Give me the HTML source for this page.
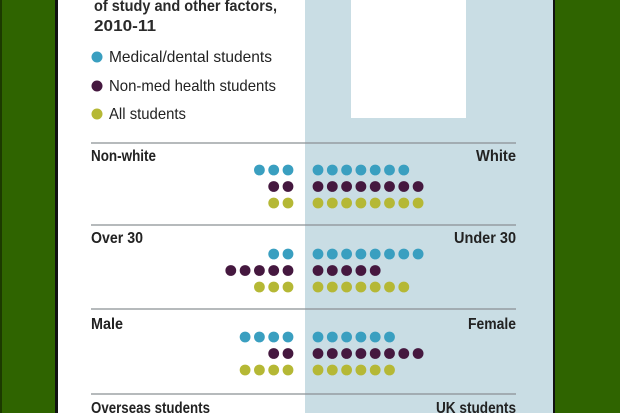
<!DOCTYPE html>
<html><head><meta charset="utf-8"><style>
html,body{margin:0;padding:0;width:620px;height:413px;overflow:hidden;background:#2f6400}
</style></head><body>
<svg width="620" height="413" xmlns="http://www.w3.org/2000/svg" font-family="Liberation Sans, sans-serif">
<rect x="0" y="0" width="620" height="413" fill="#2f6400"/>
<rect x="0" y="0" width="2" height="413" fill="#1c3a00"/>
<rect x="55" y="0" width="3" height="413" fill="#111"/>
<rect x="553" y="0" width="2" height="413" fill="#111"/>
<rect x="58" y="0" width="247" height="413" fill="#ffffff"/>
<rect x="305" y="0" width="248" height="413" fill="#c9dde4"/>
<rect x="351" y="0" width="115" height="118" fill="#ffffff"/>
<g fill="#2a2a2a" font-weight="bold" font-size="16">
<text x="94" y="11" textLength="183" lengthAdjust="spacingAndGlyphs">of study and other factors,</text>
<text x="94" y="31" textLength="62" lengthAdjust="spacingAndGlyphs">2010-11</text>
</g>
<g font-size="16" fill="#222">
<circle cx="97" cy="57" r="5.5" fill="#3a9fc0"/><text x="109" y="62" textLength="163" lengthAdjust="spacingAndGlyphs">Medical/dental students</text>
<circle cx="97" cy="86" r="5.5" fill="#45183f"/><text x="109" y="91" textLength="167" lengthAdjust="spacingAndGlyphs">Non-med health students</text>
<circle cx="97" cy="114" r="5.5" fill="#b5b835"/><text x="109" y="119" textLength="77" lengthAdjust="spacingAndGlyphs">All students</text>
</g>
<g stroke="#8a9094" stroke-width="1.2">
<line x1="91" y1="143" x2="516" y2="143"/>
<line x1="91" y1="225" x2="516" y2="225"/>
<line x1="91" y1="309" x2="516" y2="309"/>
<line x1="91" y1="394" x2="516" y2="394"/>
</g>
<g font-size="16" fill="#222" font-weight="bold">
<text x="91" y="161" textLength="65" lengthAdjust="spacingAndGlyphs">Non-white</text>
<text x="516" y="161" text-anchor="end" textLength="40" lengthAdjust="spacingAndGlyphs">White</text>
<text x="91" y="243" textLength="52" lengthAdjust="spacingAndGlyphs">Over 30</text>
<text x="516" y="243" text-anchor="end" textLength="62" lengthAdjust="spacingAndGlyphs">Under 30</text>
<text x="91" y="329" textLength="32" lengthAdjust="spacingAndGlyphs">Male</text>
<text x="516" y="329" text-anchor="end" textLength="48" lengthAdjust="spacingAndGlyphs">Female</text>
<text x="91" y="413" textLength="119" lengthAdjust="spacingAndGlyphs">Overseas students</text>
<text x="516" y="413" text-anchor="end" textLength="80" lengthAdjust="spacingAndGlyphs">UK students</text>
</g>
<g fill="#3a9fc0">
<circle cx="288" cy="170" r="5.4"/><circle cx="273.7" cy="170" r="5.4"/><circle cx="259.4" cy="170" r="5.4"/>
<circle cx="318" cy="170" r="5.4"/><circle cx="332.3" cy="170" r="5.4"/><circle cx="346.6" cy="170" r="5.4"/><circle cx="360.9" cy="170" r="5.4"/><circle cx="375.2" cy="170" r="5.4"/><circle cx="389.5" cy="170" r="5.4"/><circle cx="403.8" cy="170" r="5.4"/>
</g>
<g fill="#45183f">
<circle cx="288" cy="186.5" r="5.4"/><circle cx="273.7" cy="186.5" r="5.4"/>
<circle cx="318" cy="186.5" r="5.4"/><circle cx="332.3" cy="186.5" r="5.4"/><circle cx="346.6" cy="186.5" r="5.4"/><circle cx="360.9" cy="186.5" r="5.4"/><circle cx="375.2" cy="186.5" r="5.4"/><circle cx="389.5" cy="186.5" r="5.4"/><circle cx="403.8" cy="186.5" r="5.4"/><circle cx="418.1" cy="186.5" r="5.4"/>
</g>
<g fill="#b5b835">
<circle cx="288" cy="203" r="5.4"/><circle cx="273.7" cy="203" r="5.4"/>
<circle cx="318" cy="203" r="5.4"/><circle cx="332.3" cy="203" r="5.4"/><circle cx="346.6" cy="203" r="5.4"/><circle cx="360.9" cy="203" r="5.4"/><circle cx="375.2" cy="203" r="5.4"/><circle cx="389.5" cy="203" r="5.4"/><circle cx="403.8" cy="203" r="5.4"/><circle cx="418.1" cy="203" r="5.4"/>
</g>
<g fill="#3a9fc0">
<circle cx="288" cy="254" r="5.4"/><circle cx="273.7" cy="254" r="5.4"/>
<circle cx="318" cy="254" r="5.4"/><circle cx="332.3" cy="254" r="5.4"/><circle cx="346.6" cy="254" r="5.4"/><circle cx="360.9" cy="254" r="5.4"/><circle cx="375.2" cy="254" r="5.4"/><circle cx="389.5" cy="254" r="5.4"/><circle cx="403.8" cy="254" r="5.4"/><circle cx="418.1" cy="254" r="5.4"/>
</g>
<g fill="#45183f">
<circle cx="288" cy="270.5" r="5.4"/><circle cx="273.7" cy="270.5" r="5.4"/><circle cx="259.4" cy="270.5" r="5.4"/><circle cx="245.1" cy="270.5" r="5.4"/><circle cx="230.8" cy="270.5" r="5.4"/>
<circle cx="318" cy="270.5" r="5.4"/><circle cx="332.3" cy="270.5" r="5.4"/><circle cx="346.6" cy="270.5" r="5.4"/><circle cx="360.9" cy="270.5" r="5.4"/><circle cx="375.2" cy="270.5" r="5.4"/>
</g>
<g fill="#b5b835">
<circle cx="288" cy="287" r="5.4"/><circle cx="273.7" cy="287" r="5.4"/><circle cx="259.4" cy="287" r="5.4"/>
<circle cx="318" cy="287" r="5.4"/><circle cx="332.3" cy="287" r="5.4"/><circle cx="346.6" cy="287" r="5.4"/><circle cx="360.9" cy="287" r="5.4"/><circle cx="375.2" cy="287" r="5.4"/><circle cx="389.5" cy="287" r="5.4"/><circle cx="403.8" cy="287" r="5.4"/>
</g>
<g fill="#3a9fc0">
<circle cx="288" cy="337" r="5.4"/><circle cx="273.7" cy="337" r="5.4"/><circle cx="259.4" cy="337" r="5.4"/><circle cx="245.1" cy="337" r="5.4"/>
<circle cx="318" cy="337" r="5.4"/><circle cx="332.3" cy="337" r="5.4"/><circle cx="346.6" cy="337" r="5.4"/><circle cx="360.9" cy="337" r="5.4"/><circle cx="375.2" cy="337" r="5.4"/><circle cx="389.5" cy="337" r="5.4"/>
</g>
<g fill="#45183f">
<circle cx="288" cy="353.5" r="5.4"/><circle cx="273.7" cy="353.5" r="5.4"/>
<circle cx="318" cy="353.5" r="5.4"/><circle cx="332.3" cy="353.5" r="5.4"/><circle cx="346.6" cy="353.5" r="5.4"/><circle cx="360.9" cy="353.5" r="5.4"/><circle cx="375.2" cy="353.5" r="5.4"/><circle cx="389.5" cy="353.5" r="5.4"/><circle cx="403.8" cy="353.5" r="5.4"/><circle cx="418.1" cy="353.5" r="5.4"/>
</g>
<g fill="#b5b835">
<circle cx="288" cy="370" r="5.4"/><circle cx="273.7" cy="370" r="5.4"/><circle cx="259.4" cy="370" r="5.4"/><circle cx="245.1" cy="370" r="5.4"/>
<circle cx="318" cy="370" r="5.4"/><circle cx="332.3" cy="370" r="5.4"/><circle cx="346.6" cy="370" r="5.4"/><circle cx="360.9" cy="370" r="5.4"/><circle cx="375.2" cy="370" r="5.4"/><circle cx="389.5" cy="370" r="5.4"/>
</g>
</svg>
</body></html>
